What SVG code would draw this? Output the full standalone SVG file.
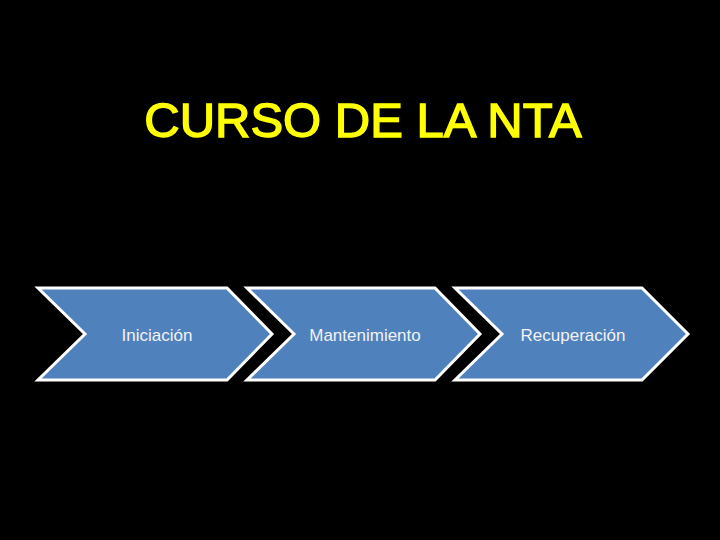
<svg xmlns="http://www.w3.org/2000/svg" width="720" height="540" viewBox="0 0 720 540">
<style>
.chev{fill:#4F81BD;stroke:#ffffff;stroke-width:3;stroke-linejoin:miter}
.lbl{font-family:"Liberation Sans",Arial,sans-serif;font-size:17px;fill:#f2f2f2;text-anchor:middle}
.title{font-family:"Liberation Sans",Arial,sans-serif;font-size:49px;fill:#ffff00;stroke:#ffff00;stroke-width:1.4;text-anchor:middle}
</style>
<rect x="0" y="0" width="720" height="540" fill="#000000"/>
<text class="title" x="363" y="137">CURSO DE LA NTA</text>
<g id="iniciacion">
<polygon class="chev" points="38,288 227,288 272,334 227,380 38,380 85,334"/>
<text class="lbl" x="157" y="341">Iniciación</text>
</g>
<g id="mantenimiento">
<polygon class="chev" points="247,288 435,288 480,334 435,380 247,380 294,334"/>
<text class="lbl" x="365" y="341">Mantenimiento</text>
</g>
<g id="recuperacion">
<polygon class="chev" points="455,288 642,288 688,334 642,380 455,380 502,334"/>
<text class="lbl" x="573" y="341">Recuperación</text>
</g>
<g id="connectors"></g>
</svg>
